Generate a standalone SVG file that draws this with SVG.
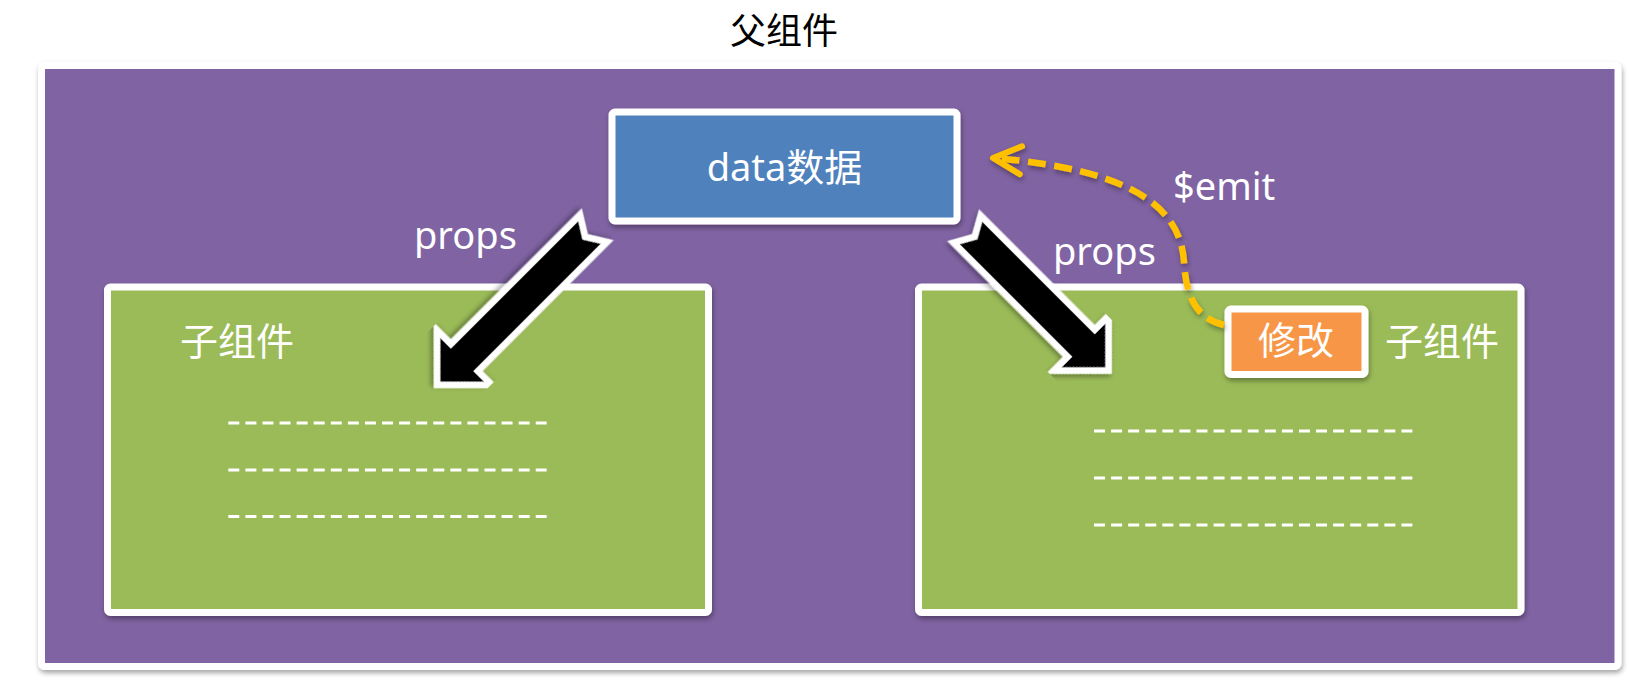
<svg xmlns="http://www.w3.org/2000/svg" width="1634" height="687" viewBox="0 0 1634 687">
<style>
.t{font-family:"Noto Sans","Noto Sans CJK SC",sans-serif;fill:#fff;font-size:38px}
.box{stroke:#fff;stroke-width:7}
.dash{stroke:#fff;stroke-width:3;stroke-dasharray:11 6.08;fill:none}
.arr{fill:#000;stroke:#fff;stroke-width:13;stroke-linejoin:miter;stroke-miterlimit:10;paint-order:stroke}
</style>
<defs>
<filter id="sh" x="-10%" y="-10%" width="120%" height="130%">
<feDropShadow dx="1" dy="3" stdDeviation="2.5" flood-color="#000" flood-opacity="0.35"/>
</filter>
<marker id="ah" markerUnits="userSpaceOnUse" markerWidth="40" markerHeight="40" viewBox="-34 -20 40 40" refX="0" refY="0" orient="auto">
<path d="M-28,-14 L0,0 L-28,14" fill="none" stroke="#FFC000" stroke-width="6" stroke-linecap="round" stroke-linejoin="round"/>
</marker>
</defs>
<rect width="1634" height="687" fill="#fff"/>
<text x="784" y="44" text-anchor="middle" font-family="Noto Sans CJK SC, sans-serif" font-size="36" fill="#000">父组件</text>
<g id="parent">
<rect class="box" x="41.5" y="65.5" width="1576.5" height="601" rx="3" fill="#8064A2" filter="url(#sh)"/>
</g>
<g id="child-left">
<rect class="box" x="107.5" y="287" width="601" height="325.5" rx="3" fill="#9BBB59" filter="url(#sh)"/>
<text class="t" x="180" y="355" font-size="37">子组件</text>
<line class="dash" x1="228.3" y1="423" x2="546.7" y2="423"/>
<line class="dash" x1="228.3" y1="470" x2="546.7" y2="470"/>
<line class="dash" x1="228.3" y1="516.5" x2="546.7" y2="516.5"/>
</g>
<g id="child-right">
<rect class="box" x="918.5" y="287" width="602.5" height="325.5" rx="3" fill="#9BBB59" filter="url(#sh)"/>
<text class="t" x="1385" y="355" font-size="37">子组件</text>
<line class="dash" x1="1094" y1="431" x2="1412.4" y2="431"/>
<line class="dash" x1="1094" y1="478" x2="1412.4" y2="478"/>
<line class="dash" x1="1094" y1="525" x2="1412.4" y2="525"/>
</g>
<g id="data">
<rect class="box" x="612" y="112" width="345" height="109" rx="3" fill="#4F81BD" filter="url(#sh)"/>
<text class="t" x="784.5" y="181" text-anchor="middle">data数据</text>
</g>
<g id="modify">
<rect class="box" x="1228" y="309" width="137" height="65.5" rx="3" fill="#F79646" filter="url(#sh)"/>
<text class="t" x="1296" y="354" text-anchor="middle" font-size="37">修改</text>
</g>
<g id="connectors">
<polygon class="arr" filter="url(#sh)" transform="translate(589.5,232.5) rotate(135)" points="0,-16 180,-16 180,-31 211,0 180,31 180,16 0,16 10,0"/>
<polygon class="arr" filter="url(#sh)" transform="translate(971,233) rotate(45)" points="0,-16 159,-16 159,-31 190,0 159,31 159,16 0,16 9,0"/>
<path d="M1224,325 C1195,318 1186,295 1184,262 C1181,212 1140,170 993,158" fill="none" stroke="#FFC000" stroke-width="6.5" stroke-dasharray="18 8.5" marker-end="url(#ah)" filter="url(#sh)"/>
<text class="t" x="414" y="249">props</text>
<text class="t" x="1053" y="265">props</text>
<text class="t" x="1173" y="200">$emit</text>
</g>
</svg>
